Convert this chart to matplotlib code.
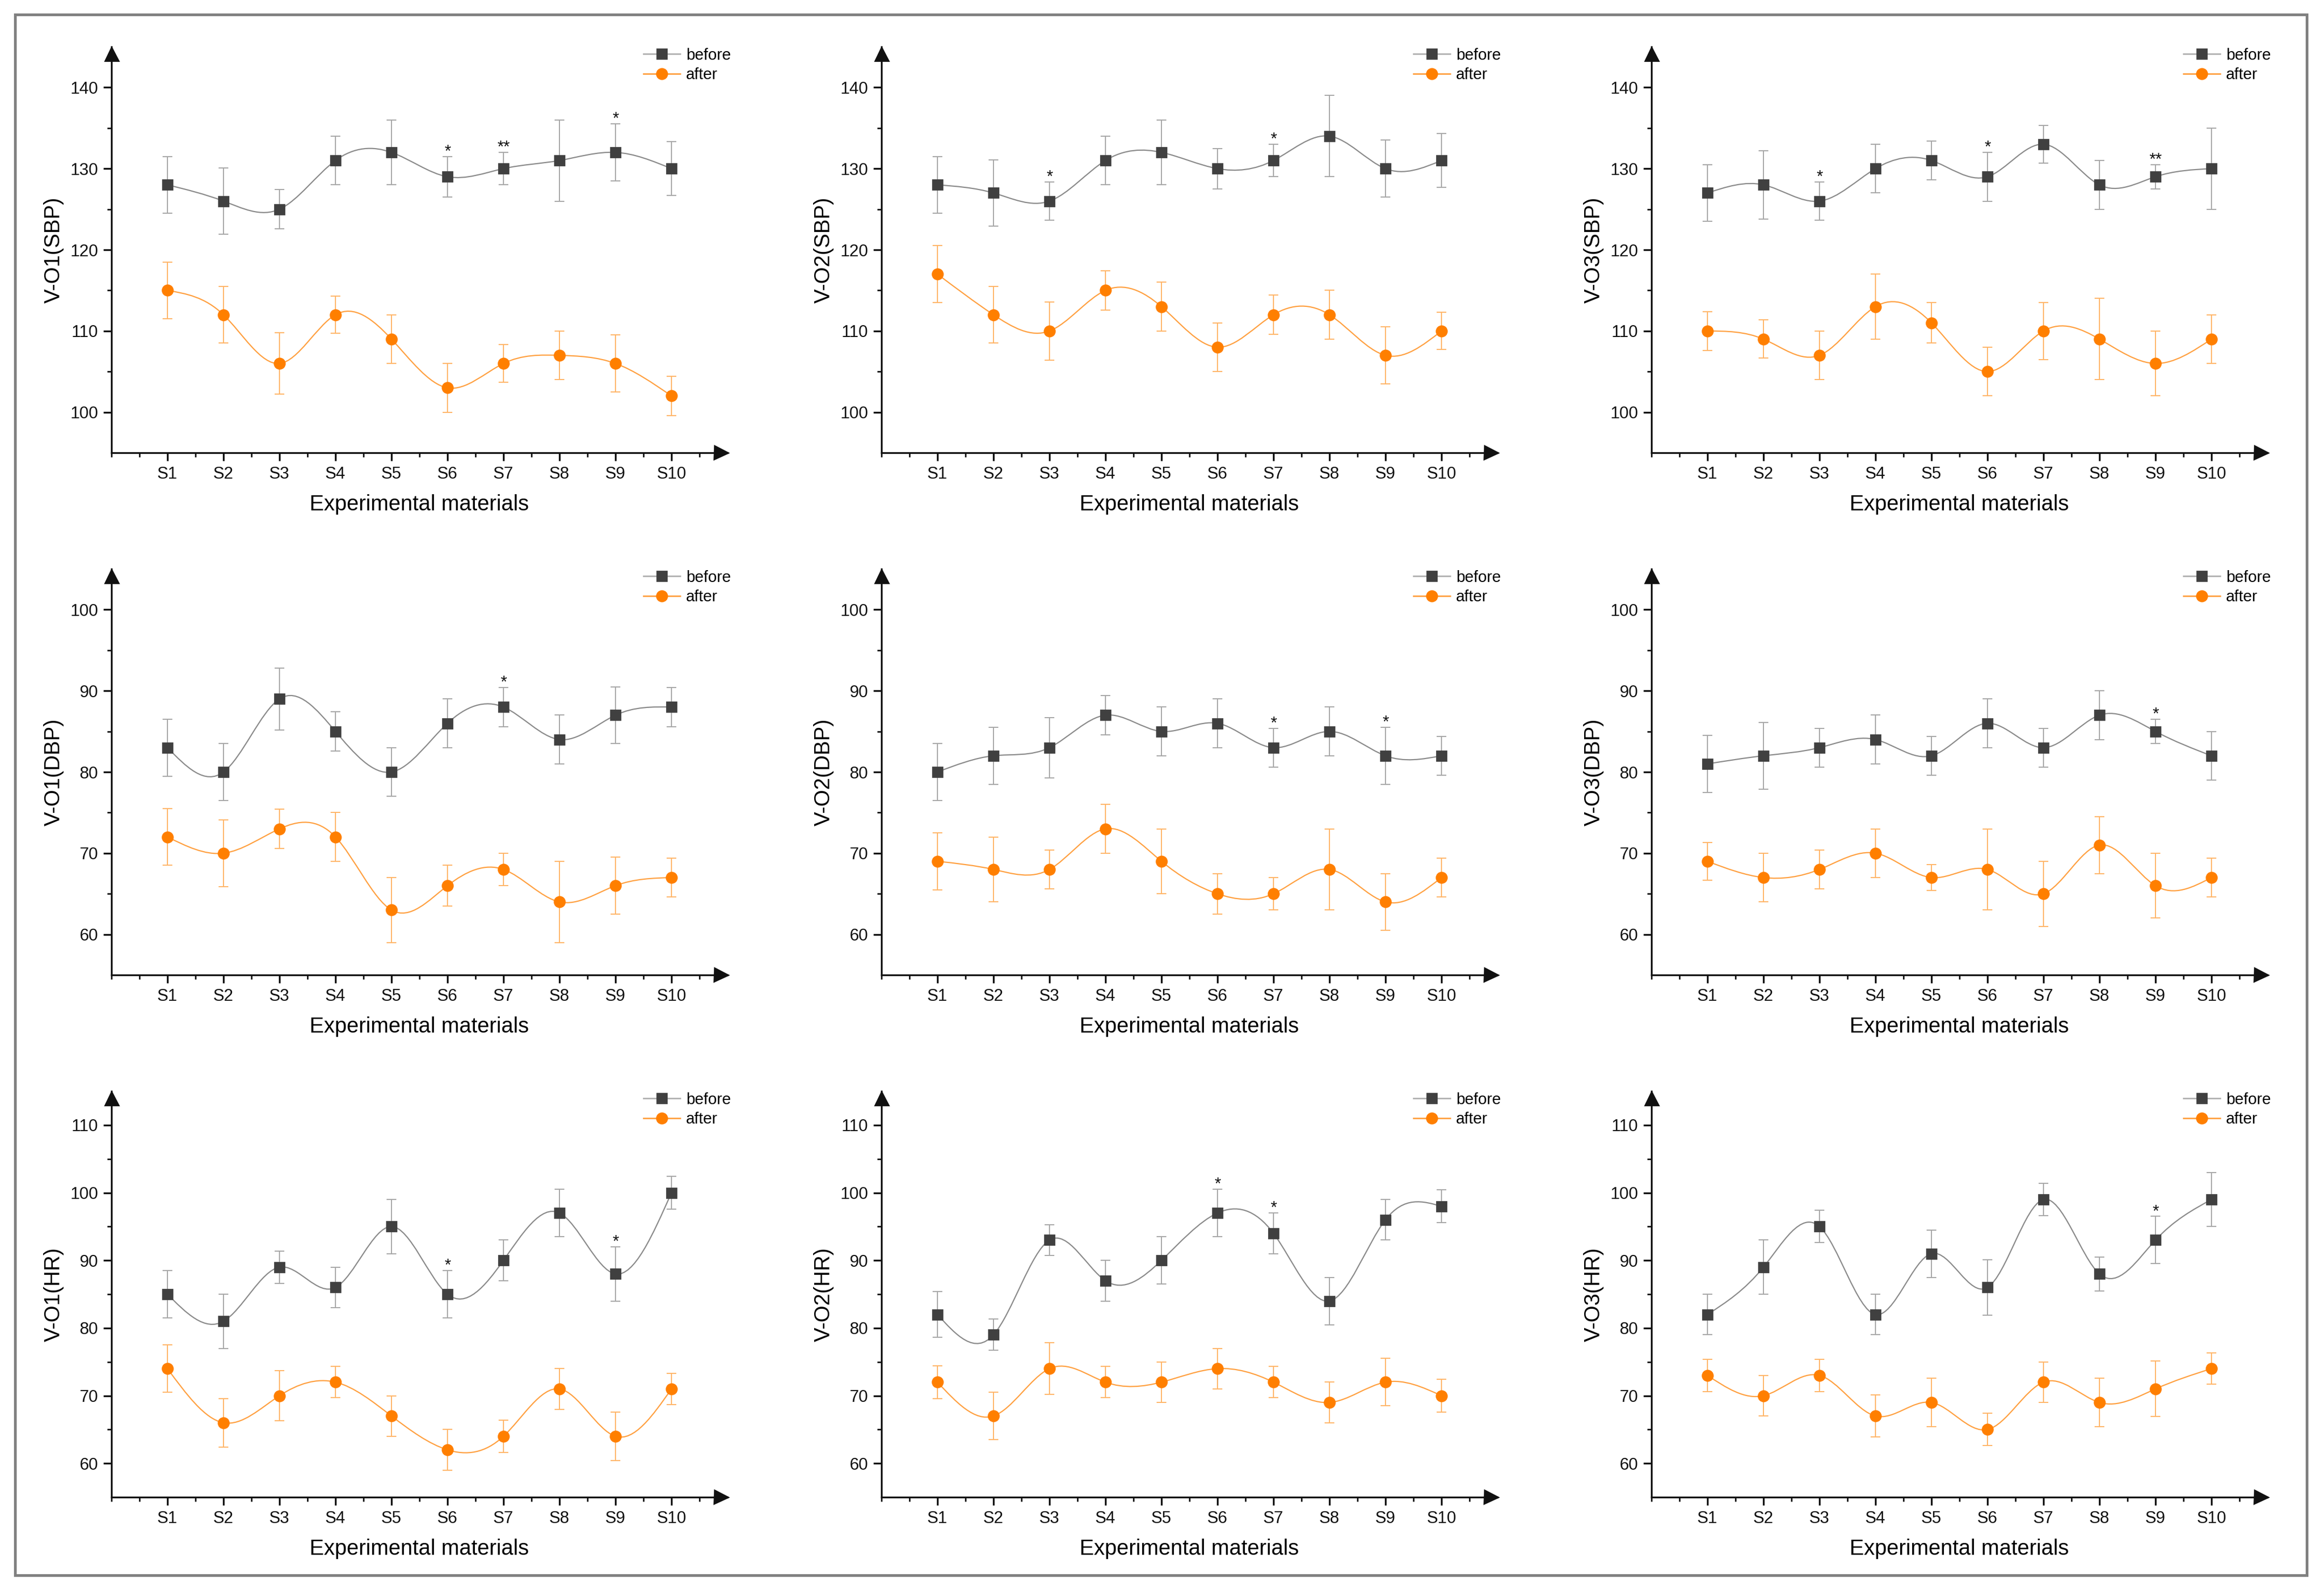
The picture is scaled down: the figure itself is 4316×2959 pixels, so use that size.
import numpy as np
import matplotlib
matplotlib.use("Agg")
import matplotlib.pyplot as plt
from matplotlib.path import Path
from matplotlib.patches import PathPatch, Rectangle
from matplotlib.lines import Line2D
from matplotlib.ticker import MultipleLocator, FixedLocator
from matplotlib import transforms

plt.rcParams['font.family'] = ['Liberation Sans', 'DejaVu Sans']

samples = ["S1", "S2", "S3", "S4", "S5", "S6", "S7", "S8", "S9", "S10"]

# --- SBP ---
o1_sbp_before = [128, 126, 125, 131, 132, 129, 130, 131, 132, 130]
o1_sbp_before_sd = [3.5, 4.1, 2.4, 3.0, 4.0, 2.5, 2.0, 5.0, 3.5, 3.3]
o1_sbp_after = [115, 112, 106, 112, 109, 103, 106, 107, 106, 102]
o1_sbp_after_sd = [3.5, 3.5, 3.8, 2.3, 3.0, 3.0, 2.3, 3.0, 3.5, 2.4]
o1_sbp_marks = {6: "*", 7: "**", 9: "*"}

o2_sbp_before = [128, 127, 126, 131, 132, 130, 131, 134, 130, 131]
o2_sbp_before_sd = [3.5, 4.1, 2.35, 3.0, 4.0, 2.5, 2.0, 5.0, 3.5, 3.3]
o2_sbp_after = [117, 112, 110, 115, 113, 108, 112, 112, 107, 110]
o2_sbp_after_sd = [3.5, 3.5, 3.6, 2.4, 3.0, 3.0, 2.4, 3.0, 3.5, 2.3]
o2_sbp_marks = {3: "*", 7: "*"}

o3_sbp_before = [127, 128, 126, 130, 131, 129, 133, 128, 129, 130]
o3_sbp_before_sd = [3.5, 4.2, 2.35, 3.0, 2.4, 3.0, 2.3, 3.0, 1.5, 5.0]
o3_sbp_after = [110, 109, 107, 113, 111, 105, 110, 109, 106, 109]
o3_sbp_after_sd = [2.4, 2.35, 3.0, 4.0, 2.5, 3.0, 3.5, 5.0, 4.0, 3.0]
o3_sbp_marks = {3: "*", 6: "*", 9: "**"}

# --- DBP ---
o1_dbp_before = [83, 80, 89, 85, 80, 86, 88, 84, 87, 88]
o1_dbp_before_sd = [3.5, 3.5, 3.8, 2.4, 3.0, 3.0, 2.4, 3.0, 3.5, 2.4]
o1_dbp_after = [72, 70, 73, 72, 63, 66, 68, 64, 66, 67]
o1_dbp_after_sd = [3.5, 4.1, 2.4, 3.0, 4.0, 2.5, 2.0, 5.0, 3.5, 2.4]
o1_dbp_marks = {7: "*"}

o2_dbp_before = [80, 82, 83, 87, 85, 86, 83, 85, 82, 82]
o2_dbp_before_sd = [3.5, 3.5, 3.7, 2.4, 3.0, 3.0, 2.4, 3.0, 3.5, 2.4]
o2_dbp_after = [69, 68, 68, 73, 69, 65, 65, 68, 64, 67]
o2_dbp_after_sd = [3.5, 4.0, 2.4, 3.0, 4.0, 2.5, 2.0, 5.0, 3.5, 2.4]
o2_dbp_marks = {7: "*", 9: "*"}

o3_dbp_before = [81, 82, 83, 84, 82, 86, 83, 87, 85, 82]
o3_dbp_before_sd = [3.5, 4.1, 2.4, 3.0, 2.4, 3.0, 2.4, 3.0, 1.5, 3.0]
o3_dbp_after = [69, 67, 68, 70, 67, 68, 65, 71, 66, 67]
o3_dbp_after_sd = [2.3, 3.0, 2.4, 3.0, 1.6, 5.0, 4.0, 3.5, 4.0, 2.4]
o3_dbp_marks = {9: "*"}

# --- HR ---
o1_hr_before = [85, 81, 89, 86, 95, 85, 90, 97, 88, 100]
o1_hr_before_sd = [3.5, 4.0, 2.4, 3.0, 4.0, 3.5, 3.0, 3.5, 4.0, 2.4]
o1_hr_after = [74, 66, 70, 72, 67, 62, 64, 71, 64, 71]
o1_hr_after_sd = [3.5, 3.6, 3.7, 2.3, 3.0, 3.0, 2.4, 3.0, 3.6, 2.3]
o1_hr_marks = {6: "*", 9: "*"}

o2_hr_before = [82, 79, 93, 87, 90, 97, 94, 84, 96, 98]
o2_hr_before_sd = [3.4, 2.3, 2.3, 3.0, 3.5, 3.5, 3.0, 3.5, 3.0, 2.4]
o2_hr_after = [72, 67, 74, 72, 72, 74, 72, 69, 72, 70]
o2_hr_after_sd = [2.4, 3.5, 3.8, 2.3, 3.0, 3.0, 2.3, 3.0, 3.5, 2.4]
o2_hr_marks = {6: "*", 7: "*"}

o3_hr_before = [82, 89, 95, 82, 91, 86, 99, 88, 93, 99]
o3_hr_before_sd = [3.0, 4.0, 2.4, 3.0, 3.5, 4.1, 2.4, 2.5, 3.5, 4.0]
o3_hr_after = [73, 70, 73, 67, 69, 65, 72, 69, 71, 74]
o3_hr_after_sd = [2.4, 3.0, 2.4, 3.1, 3.6, 2.4, 3.0, 3.6, 4.1, 2.3]
o3_hr_marks = {9: "*"}

ylabels = [["V-O1(SBP)", "V-O2(SBP)", "V-O3(SBP)"],
           ["V-O1(DBP)", "V-O2(DBP)", "V-O3(DBP)"],
           ["V-O1(HR)", "V-O2(HR)", "V-O3(HR)"]]
ylims = [(95, 145), (55, 105), (55, 115)]

panels = [
    [(o1_sbp_before, o1_sbp_before_sd, o1_sbp_after, o1_sbp_after_sd, o1_sbp_marks),
     (o2_sbp_before, o2_sbp_before_sd, o2_sbp_after, o2_sbp_after_sd, o2_sbp_marks),
     (o3_sbp_before, o3_sbp_before_sd, o3_sbp_after, o3_sbp_after_sd, o3_sbp_marks)],
    [(o1_dbp_before, o1_dbp_before_sd, o1_dbp_after, o1_dbp_after_sd, o1_dbp_marks),
     (o2_dbp_before, o2_dbp_before_sd, o2_dbp_after, o2_dbp_after_sd, o2_dbp_marks),
     (o3_dbp_before, o3_dbp_before_sd, o3_dbp_after, o3_dbp_after_sd, o3_dbp_marks)],
    [(o1_hr_before, o1_hr_before_sd, o1_hr_after, o1_hr_after_sd, o1_hr_marks),
     (o2_hr_before, o2_hr_before_sd, o2_hr_after, o2_hr_after_sd, o2_hr_marks),
     (o3_hr_before, o3_hr_before_sd, o3_hr_after, o3_hr_after_sd, o3_hr_marks)],
]

GRAY_LINE = "#8a8a8a"
GRAY_ERR = "#a6a6a6"
GRAY_MARK = "#404040"
ORANGE_LINE = "#ffa040"
ORANGE_ERR = "#ffb466"
ORANGE_MARK = "#ff7f00"


def spline_path(x, y):
    # natural cubic spline, written as cubic bezier segments
    x = np.asarray(x, float)
    y = np.asarray(y, float)
    n = len(x)
    h = np.diff(x)
    A = np.zeros((n, n))
    b = np.zeros(n)
    A[0, 0], A[0, 1] = 2, 1
    b[0] = 3 * (y[1] - y[0]) / h[0]
    A[-1, -2], A[-1, -1] = 1, 2
    b[-1] = 3 * (y[-1] - y[-2]) / h[-1]
    for i in range(1, n - 1):
        A[i, i - 1] = 1 / h[i - 1]
        A[i, i] = 2 * (1 / h[i - 1] + 1 / h[i])
        A[i, i + 1] = 1 / h[i]
        b[i] = 3 * ((y[i] - y[i - 1]) / h[i - 1] ** 2 + (y[i + 1] - y[i]) / h[i] ** 2)
    m = np.linalg.solve(A, b)
    verts = [(x[0], y[0])]
    codes = [Path.MOVETO]
    for i in range(n - 1):
        verts += [(x[i] + h[i] / 3, y[i] + m[i] * h[i] / 3),
                  (x[i + 1] - h[i] / 3, y[i + 1] - m[i + 1] * h[i] / 3),
                  (x[i + 1], y[i + 1])]
        codes += [Path.CURVE4] * 3
    return Path(verts, codes)


W, H = 4316, 2959
fig = plt.figure(figsize=(W / 200, H / 200), dpi=200)

col_left = [207, 1637, 3067]
row_top = [87, 1057, 2027]
ax_w, ax_h = 1144, 754

xs = np.arange(1, 11)

for r in range(3):
    for c in range(3):
        before, before_sd, after, after_sd, marks = panels[r][c]
        lo, hi = ylims[r]
        ax = fig.add_axes([col_left[c] / W, 1 - (row_top[r] + ax_h) / H, ax_w / W, ax_h / H])
        ax.set_xlim(0, 11)
        ax.set_ylim(lo, hi)

        ax.errorbar(xs, before, yerr=before_sd, fmt='none', ecolor=GRAY_ERR,
                    elinewidth=0.7, capsize=3.4, capthick=0.7, zorder=2)
        ax.errorbar(xs, after, yerr=after_sd, fmt='none', ecolor=ORANGE_ERR,
                    elinewidth=0.7, capsize=3.4, capthick=0.7, zorder=2)
        ax.add_patch(PathPatch(spline_path(xs, before), fill=False, edgecolor=GRAY_LINE, lw=0.8, zorder=3))
        ax.add_patch(PathPatch(spline_path(xs, after), fill=False, edgecolor=ORANGE_LINE, lw=0.8, zorder=3))
        ax.plot(xs, before, 's', ms=6.3, color=GRAY_MARK, zorder=4)
        ax.plot(xs, after, 'o', ms=7, color=ORANGE_MARK, zorder=4)

        for k, s in marks.items():
            ax.text(k, before[k - 1] + before_sd[k - 1], s, ha='center', va='baseline',
                    fontsize=11, color='#111111', zorder=5)

        for side in ['top', 'right']:
            ax.spines[side].set_visible(False)
        for side in ['left', 'bottom']:
            ax.spines[side].set_linewidth(1.2)
            ax.spines[side].set_color('#111111')

        # arrow heads at the axis ends
        tr_up = transforms.offset_copy(ax.transAxes, fig=fig, y=-4.5, units='points')
        ax.plot([0], [1], marker='^', ms=9, color='#111111', transform=tr_up, clip_on=False)
        tr_right = transforms.offset_copy(ax.transAxes, fig=fig, x=-4.5, units='points')
        ax.plot([1], [0], marker='>', ms=9, color='#111111', transform=tr_right, clip_on=False)

        ax.set_xticks(xs)
        ax.set_xticklabels(samples)
        ax.xaxis.set_minor_locator(FixedLocator(np.arange(0, 11, 0.5)))
        ax.yaxis.set_major_locator(MultipleLocator(10))
        ax.yaxis.set_minor_locator(FixedLocator(np.arange(lo + 5, hi - 1, 5)))
        ax.tick_params(axis='both', which='major', length=5.4, width=1.2, colors='#111111',
                       labelsize=11.2, pad=3.5)
        ax.tick_params(axis='both', which='minor', length=3, width=1.0, colors='#111111')

        ax.set_xlabel("Experimental materials", fontsize=14.4, labelpad=8)
        ax.set_ylabel(ylabels[r][c], fontsize=14.4, labelpad=4)

        handles = [
            Line2D([], [], color="#b0b0b0", lw=1.0, marker='s', ms=6.3,
                   mfc=GRAY_MARK, mec=GRAY_MARK, label="before"),
            Line2D([], [], color=ORANGE_LINE, lw=1.0, marker='o', ms=7,
                   mfc=ORANGE_MARK, mec=ORANGE_MARK, label="after"),
        ]
        ax.legend(handles=handles, loc='upper left', bbox_to_anchor=(0.864, 0.998),
                  frameon=False, fontsize=10.6, handlelength=2.3, handletextpad=0.37,
                  labelspacing=0.3, borderpad=0, borderaxespad=0)

fig.add_artist(Rectangle((27.5 / W, 1 - 2925.5 / H), (4283.5 - 27.5) / W, (2925.5 - 26.5) / H,
                         transform=fig.transFigure, fill=False, edgecolor='#808080', lw=1.8))

fig.savefig("out.png", dpi=200)
